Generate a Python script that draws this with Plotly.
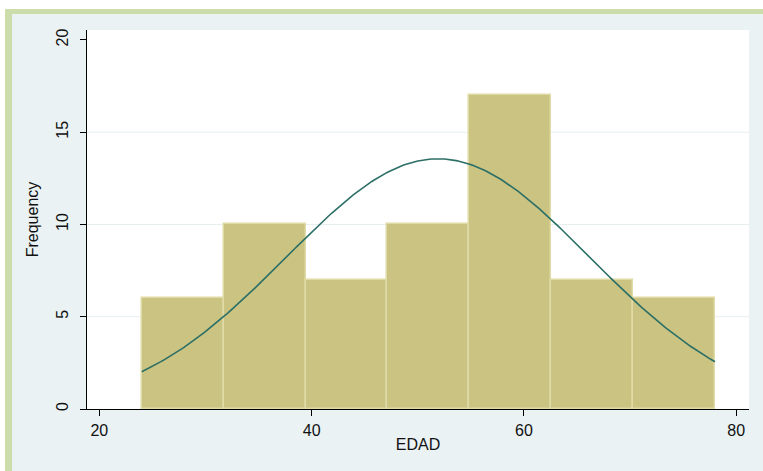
import numpy as np
import plotly.graph_objects as go

# ---- data ----
bin_start = 24.0
bin_end = 78.0
n_bins = 7
frequencies = [6, 10, 7, 10, 17, 7, 6]
# normal curve overlay parameters (fitted density, scaled to frequency)
curve_mean = 51.9
curve_sd = 14.3
x_ticks = [20, 40, 60, 80]
y_ticks = [0, 5, 10, 15, 20]

width = (bin_end - bin_start) / n_bins
centers = [bin_start + width * (i + 0.5) for i in range(n_bins)]
n_obs = sum(frequencies)

xc = np.linspace(bin_start, bin_end, 300)
yc = n_obs * width / (curve_sd * np.sqrt(2 * np.pi)) * np.exp(-0.5 * ((xc - curve_mean) / curve_sd) ** 2)

# ---- layout geometry (pixels) ----
W, H = 763, 471
L, R, T, B = 87, 749, 30, 409
pw, ph = R - L, B - T


def px(x):
    return (x - L) / pw


def py(y):
    return (B - y) / ph


fig = go.Figure()
fig.add_trace(go.Bar(
    x=centers, y=frequencies, width=[width] * n_bins,
    marker=dict(color="#cbc382", line=dict(color="#e0daa6", width=1.5)),
    hoverinfo="x+y", showlegend=False,
))
fig.add_trace(go.Scatter(
    x=xc, y=yc, mode="lines",
    line=dict(color="#2b6f66", width=1.6),
    showlegend=False, hoverinfo="skip",
))

font = dict(family="Liberation Sans, Arial, sans-serif", size=16, color="#111111")

shapes = [
    dict(type="rect", xref="paper", yref="paper", layer="below",
         x0=px(5), x1=px(780), y0=py(9), y1=py(490),
         fillcolor="#ccdcaa", line=dict(width=0)),
    dict(type="rect", xref="paper", yref="paper", layer="below",
         x0=px(12), x1=px(780), y0=py(14), y1=py(490),
         fillcolor="#eaf2f3", line=dict(width=0)),
    dict(type="rect", xref="paper", yref="paper", layer="below",
         x0=0, x1=1, y0=0, y1=1,
         fillcolor="#ffffff", line=dict(width=0)),
]
# interior gridlines only (no line at the top tick)
for v in y_ticks[1:-1]:
    shapes.append(dict(type="line", xref="paper", yref="y", layer="below",
                       x0=0, x1=1, y0=v, y1=v,
                       line=dict(color="#e6eef0", width=1)))

fig.update_layout(
    width=W, height=H,
    autosize=False,
    margin=dict(l=L, r=W - R, t=T, b=H - B, pad=0, autoexpand=False),
    paper_bgcolor="#ffffff",
    plot_bgcolor="rgba(0,0,0,0)",
    font=font,
    bargap=0,
    shapes=shapes,
    xaxis=dict(
        automargin=False,
        range=[18.84, 81.2], tickvals=x_ticks, ticktext=[str(v) for v in x_ticks],
        showgrid=False, zeroline=False, showline=True, linecolor="#000000", linewidth=1,
        ticks="outside", ticklen=6, tickcolor="#000000", tickwidth=1,
        ticklabelstandoff=1,
        title=dict(text="EDAD", font=font, standoff=0),
    ),
    yaxis=dict(
        automargin=False,
        range=[0, 20.54], tickvals=y_ticks, ticktext=[str(v) for v in y_ticks],
        tickangle=-90,
        showgrid=False,
        zeroline=False, showline=True, linecolor="#000000", linewidth=1,
        ticks="outside", ticklen=6, tickcolor="#000000", tickwidth=1,
        ticklabelstandoff=6,
        title=dict(text="Frequency", font=font, standoff=10),
    ),
)

fig.write_html(
    "out.html",
    config={"displayModeBar": False},
    post_script="document.body.style.margin='0';document.body.style.padding='0';",
)
